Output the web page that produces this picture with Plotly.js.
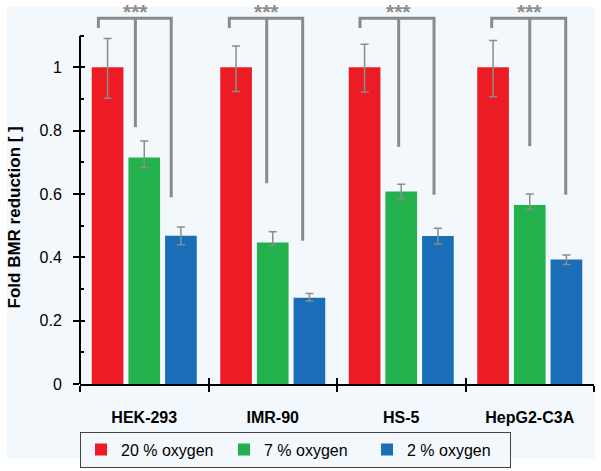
<!DOCTYPE html>
<html>
<head>
<meta charset="utf-8">
<script src="https://cdn.plot.ly/plotly-3.0.1.min.js"></script>
<style>html,body{margin:0;padding:0;background:#fff;}#chart{width:601px;height:471px;}</style>
</head>
<body>
<div id="chart"></div>
<script>
// ---- data ----
var categories = ["HEK-293", "IMR-90", "HS-5", "HepG2-C3A"];
var seriesNames = ["20 % oxygen", "7 % oxygen", "2 % oxygen"];
var o20 = [1.0, 1.0, 1.0, 1.0];
var o20Plus = [0.091, 0.067, 0.073, 0.085];
var o20Minus = [0.098, 0.076, 0.078, 0.093];
var o7 = [0.715, 0.447, 0.608, 0.565];
var o7Plus = [0.052, 0.034, 0.023, 0.035];
var o7Minus = [0.031, 0.010, 0.023, 0.014];
var o2 = [0.468, 0.272, 0.467, 0.393];
var o2Plus = [0.028, 0.014, 0.025, 0.014];
var o2Minus = [0.028, 0.010, 0.025, 0.016];
// significance brackets: top level, left arm end, middle/right line ends
var bracketTop = [1.155, 1.155, 1.155, 1.155];
var bracketLeftEnd = [1.124, 1.124, 1.124, 1.124];
var bracketMidEnd = [0.811, 0.634, 0.749, 0.751];
var bracketRightEnd = [0.590, 0.452, 0.598, 0.598];
var sigLabels = ["***", "***", "***", "***"];
var yTicks = [0, 0.2, 0.4, 0.6, 0.8, 1];
var yTickText = ["0", "0.2", "0.4", "0.6", "0.8", "1"];

// ---- styling / geometry ----
var colors = ["#ed1c24", "#22b14c", "#1a6eb8"];
var errColor = "#8c8c8c";
var bracketColor = "#8a8a8a";
var bg = "#f3f8fc";
var bracketOffsets = [
  [-0.357, -0.069, 0.210],
  [-0.338, -0.047, 0.233],
  [-0.321, -0.020, 0.255],
  [-0.296, 0.000, 0.280]
];
var xIdx = categories.map(function (c, i) { return i; });

function barTrace(name, y, plus, minus, color) {
  return {
    type: "bar", name: name, x: xIdx, y: y,
    marker: {color: color, line: {width: 0}},
    error_y: {type: "data", symmetric: false, array: plus, arrayminus: minus,
      color: errColor, thickness: 1.5, width: 4},
    hoverinfo: "none"
  };
}
var traces = [
  barTrace(seriesNames[0], o20, o20Plus, o20Minus, colors[0]),
  barTrace(seriesNames[1], o7, o7Plus, o7Minus, colors[1]),
  barTrace(seriesNames[2], o2, o2Plus, o2Minus, colors[2])
];

// brackets as line traces on the overlay axes (same ranges)
var bx = [], by = [];
categories.forEach(function (c, i) {
  var off = bracketOffsets[i];
  bx.push(i + off[0], i + off[0], i + off[2], i + off[2], null);
  by.push(bracketLeftEnd[i], bracketTop[i], bracketTop[i], bracketRightEnd[i], null);
  bx.push(i + off[1], i + off[1], null);
  by.push(bracketTop[i], bracketMidEnd[i], null);
});
traces.push({
  type: "scatter", mode: "lines", x: bx, y: by, xaxis: "x2", yaxis: "y2",
  line: {color: bracketColor, width: 3}, showlegend: false, hoverinfo: "none",
  connectgaps: false
});

var fontFam = "Liberation Sans, Arial, sans-serif";
var annotations = categories.map(function (c, i) {
  return {
    x: i + bracketOffsets[i][1], y: 1.176, xref: "x", yref: "y",
    text: "<b>" + sigLabels[i] + "</b>", showarrow: false, yanchor: "middle", xanchor: "center",
    font: {family: fontFam, size: 21, color: "#8c8c8c"}
  };
});
annotations.push({
  x: -0.127, xref: "paper", y: 0.525, yref: "y", xanchor: "center", yanchor: "middle",
  text: "<b>Fold BMR reduction [ ]</b>", textangle: -90, showarrow: false,
  font: {family: fontFam, size: 17, color: "#000"}
});

var layout = {
  width: 601, height: 471,
  margin: {l: 80, r: 7, t: 4, b: 83},
  paper_bgcolor: "#ffffff",
  plot_bgcolor: "rgba(0,0,0,0)",
  font: {family: fontFam, size: 16, color: "#000"},
  barmode: "group",
  bargap: 0.144,
  bargroupgap: 0.136,
  showlegend: true,
  legend: {
    orientation: "h", x: 0, xanchor: "left", y: -0.125, yanchor: "top",
    bgcolor: bg, bordercolor: "#444", borderwidth: 1,
    font: {family: fontFam, size: 16, color: "#000"},
    entrywidth: 98, entrywidthmode: "pixels", traceorder: "normal"
  },
  xaxis: {
    range: [-0.5, 3.5], tickmode: "array", tickvals: xIdx,
    ticktext: categories.map(function (c) { return "<b>" + c + "</b>"; }),
    ticks: "", ticklabelstandoff: 18,
    tickfont: {family: fontFam, size: 16, color: "#000"},
    showline: true, linecolor: "#000", linewidth: 2,
    showgrid: false, zeroline: false, fixedrange: true,
    minor: {tickmode: "array", tickvals: [-0.5, 0.5, 1.5, 2.5, 3.5],
      ticks: "outside", ticklen: 6, tickwidth: 2, tickcolor: "#000", showgrid: false}
  },
  xaxis2: {
    range: [-0.5, 3.5], overlaying: "x", anchor: "y2", side: "bottom",
    tickmode: "array", tickvals: [-0.5, 0.5, 1.5, 2.5, 3.5],
    ticks: "inside", ticklen: 6, tickwidth: 2, tickcolor: "#000",
    showticklabels: false, showgrid: false, zeroline: false, showline: false, fixedrange: true
  },
  yaxis: {
    range: [0, 1.2], tickmode: "array", tickvals: yTicks, ticktext: yTickText,
    ticks: "outside", ticklen: 6, tickwidth: 2, tickcolor: "#000",
    ticklabelstandoff: 8,
    tickfont: {family: fontFam, size: 16, color: "#000"},
    showline: false, showgrid: false, zeroline: false, fixedrange: true,
    minor: {tickmode: "array", tickvals: [0.1, 0.3, 0.5, 0.7, 0.9, 1.1],
      ticks: "inside", ticklen: 4, tickwidth: 2, tickcolor: "#000", showgrid: false}
  },
  yaxis2: {
    range: [0, 1.2], overlaying: "y", anchor: "x2", side: "left",
    tickmode: "array", tickvals: yTicks,
    ticks: "inside", ticklen: 5, tickwidth: 2, tickcolor: "#000",
    showticklabels: false, showgrid: false, zeroline: false, showline: false, fixedrange: true
  },
  shapes: [
    {type: "rect", xref: "paper", yref: "paper", x0: -0.142, x1: 1.002, y0: -0.198, y1: 0.992,
      fillcolor: bg, line: {width: 0}, layer: "below"},
    {type: "line", xref: "paper", yref: "y", x0: 0, x1: 0, y0: 0, y1: 1.1,
      line: {color: "#000", width: 2}, layer: "above"}
  ],
  annotations: annotations
};

Plotly.newPlot("chart", traces, layout, {displayModeBar: false, staticPlot: true});
</script>
</body>
</html>
